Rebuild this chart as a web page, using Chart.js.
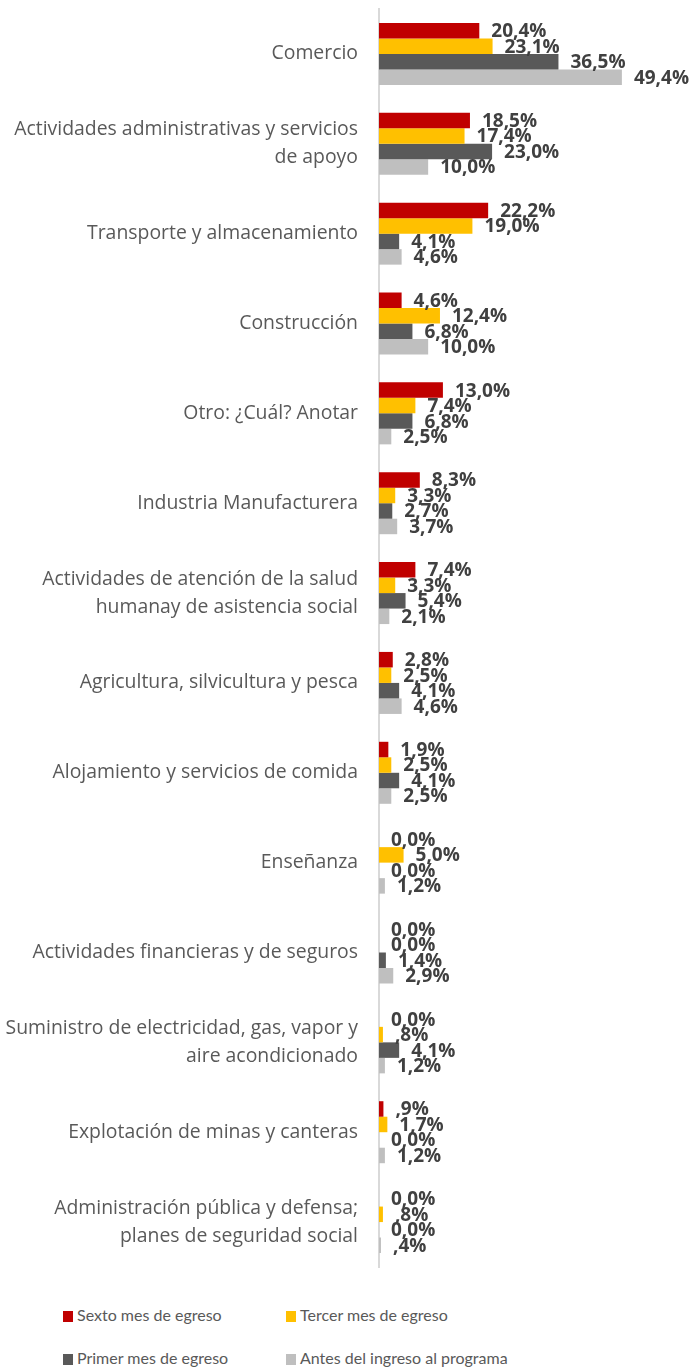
<!DOCTYPE html>
<html>
<head>
<meta charset="utf-8">
<script src="https://cdn.jsdelivr.net/npm/chart.js@4"></script>
<style>
  body { margin: 0; background: #fff; }
  #wrap { position: relative; width: 691px; height: 1368px; }
  #box { position: absolute; left: 0; top: 0; width: 691px; height: 1290px; }
  .leg { position: absolute; font: 16px Lato, "Open Sans", sans-serif; color: #595959; white-space: nowrap; line-height: 20px; }
  .leg i { display: inline-block; width: 10px; height: 11px; margin-right: 4px; vertical-align: -1px; }
</style>
</head>
<body>
<div id="wrap">
  <div id="box"><canvas id="chart"></canvas></div>
  <div id="legend"></div>
</div>
<script>
const categories = [
  "Comercio",
  ["Actividades administrativas y servicios", "de apoyo"],
  "Transporte y almacenamiento",
  "Construcción",
  "Otro: ¿Cuál? Anotar",
  "Industria Manufacturera",
  ["Actividades de atención de la salud", "humanay de asistencia social"],
  "Agricultura, silvicultura y pesca",
  "Alojamiento y servicios de comida",
  "Enseñanza",
  "Actividades financieras y de seguros",
  ["Suministro de electricidad, gas, vapor y", "aire acondicionado"],
  "Explotación de minas y canteras",
  ["Administración pública y defensa;", "planes de seguridad social"]
];

const seriesNames = ["Sexto mes de egreso", "Tercer mes de egreso", "Primer mes de egreso", "Antes del ingreso al programa"];
const sexto  = [20.4, 18.5, 22.2, 4.6, 13.0, 8.3, 7.4, 2.8, 1.9, 0.0, 0.0, 0.0, 0.9, 0.0];
const tercer = [23.1, 17.4, 19.0, 12.4, 7.4, 3.3, 3.3, 2.5, 2.5, 5.0, 0.0, 0.8, 1.7, 0.8];
const primer = [36.5, 23.0, 4.1, 6.8, 6.8, 2.7, 5.4, 4.1, 4.1, 0.0, 1.4, 4.1, 0.0, 0.0];
const antes  = [49.4, 10.0, 4.6, 10.0, 2.5, 3.7, 2.1, 4.6, 2.5, 1.2, 2.9, 1.2, 1.2, 0.4];
const colors = ["#C00000", "#FFC000", "#595959", "#BFBFBF"];

// formato tipo Excel: 20,4%  ,9%  0,0%
function fmt(v) {
  let s = v.toFixed(1).replace(".", ",");
  if (v > 0 && v < 1) s = s.slice(1);
  return s + "%";
}

const valueLabels = {
  id: "valueLabels",
  afterDatasetsDraw(chart) {
    const ctx = chart.ctx;
    ctx.save();
    ctx.font = "bold 19px 'Open Sans', Lato, sans-serif";
    ctx.fillStyle = "#404040";
    ctx.textAlign = "left";
    ctx.textBaseline = "middle";
    chart.data.datasets.forEach((ds, i) => {
      chart.getDatasetMeta(i).data.forEach((bar, j) => {
        ctx.fillText(fmt(ds.data[j]), bar.x + 12, bar.y + 1);
      });
    });
    ctx.restore();
  }
};

const ctx = document.getElementById("chart").getContext("2d");
new Chart(ctx, {
  type: "bar",
  data: {
    labels: categories,
    datasets: [sexto, tercer, primer, antes].map((d, i) => ({
      label: seriesNames[i],
      data: d,
      backgroundColor: colors[i],
      categoryPercentage: 0.69,
      barPercentage: 1.0,
    })),
  },
  options: {
    indexAxis: "y",
    responsive: true,
    maintainAspectRatio: false,
    animation: false,
    layout: { padding: { top: 9, right: 17, bottom: 23, left: 0 } },
    plugins: {
      legend: { display: false },
      tooltip: { enabled: false },
    },
    scales: {
      x: {
        display: false,
        min: 0,
        max: 60,
      },
      y: {
        grid: { display: false },
        border: { display: true, color: "#D9D9D9", width: 2 },
        ticks: {
          color: "#595959",
          font: { family: "'Open Sans', Lato, sans-serif", size: 19.4, lineHeight: 1.44 },
          padding: 13,
        },
        afterFit(scale) {
          scale.width = 379;
          scale.paddingTop = 0;
          scale.paddingBottom = 0;
        },
      },
    },
  },
  plugins: [valueLabels],
});

// leyenda en dos columnas
const legendPos = [[63, 1305], [286, 1305], [63, 1348], [286, 1348]];
const legend = document.getElementById("legend");
seriesNames.forEach((name, i) => {
  const d = document.createElement("div");
  d.className = "leg";
  d.style.left = legendPos[i][0] + "px";
  d.style.top = legendPos[i][1] + "px";
  d.innerHTML = '<i style="background:' + colors[i] + '"></i>' + name;
  legend.appendChild(d);
});
</script>
</body>
</html>
